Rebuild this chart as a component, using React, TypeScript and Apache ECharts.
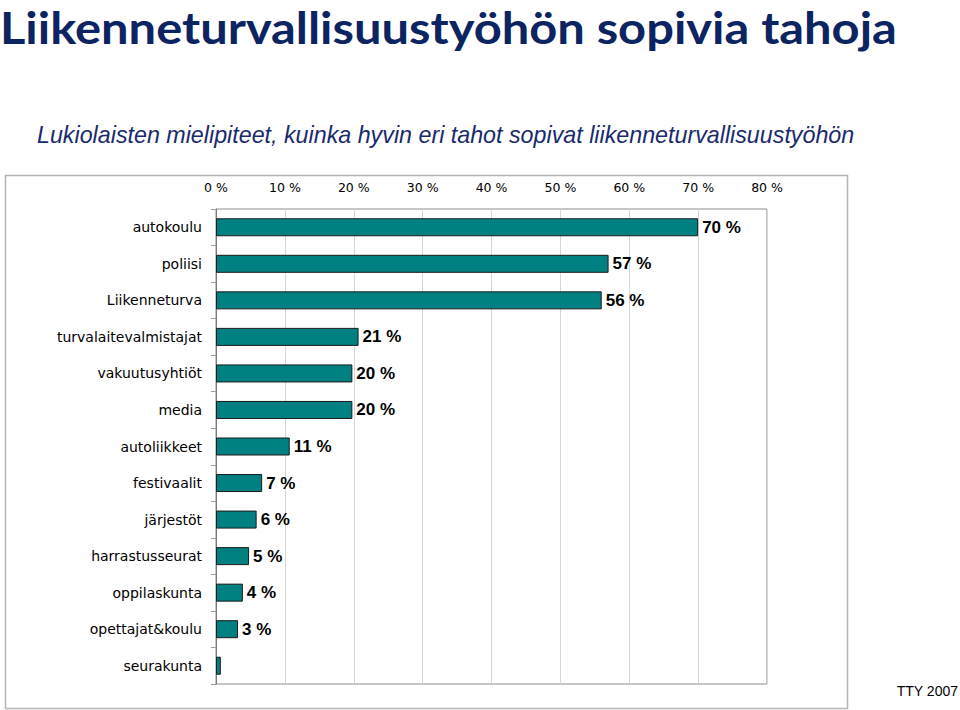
import React, { useEffect, useRef } from "react";
import * as echarts from "echarts";

const categories = [
  "autokoulu",
  "poliisi",
  "Liikenneturva",
  "turvalaitevalmistajat",
  "vakuutusyhtiöt",
  "media",
  "autoliikkeet",
  "festivaalit",
  "järjestöt",
  "harrastusseurat",
  "oppilaskunta",
  "opettajat&koulu",
  "seurakunta",
];
const values = [70, 57, 56, 20.7, 19.8, 19.8, 10.7, 6.7, 5.9, 4.8, 3.9, 3.2, 0.7];
const valueLabels = ["70 %", "57 %", "56 %", "21 %", "20 %", "20 %", "11 %", "7 %", "6 %", "5 %", "4 %", "3 %", ""];
const xTicks = [0, 10, 20, 30, 40, 50, 60, 70, 80];

const TITLE = "Liikenneturvallisuustyöhön sopivia tahoja";
const SUBTITLE = "Lukiolaisten mielipiteet, kuinka hyvin eri tahot sopivat liikenneturvallisuustyöhön";
const SOURCE = "TTY 2007";

function measure(font: string, text: string): number {
  const ctx = document.createElement("canvas").getContext("2d");
  if (!ctx) return 0;
  ctx.font = font;
  return ctx.measureText(text).width;
}

export default function App() {
  const ref = useRef<HTMLDivElement>(null);
  useEffect(() => {
    if (!ref.current) return;
    const chart = echarts.init(ref.current, null, { renderer: "svg" });
    const titleSize = 40;
    const titleFont = `bold ${titleSize}px Lato`;
    const subFont = "italic 23px 'Liberation Sans'";
    const tw = measure(titleFont, TITLE) || 820;
    const sw = measure(subFont, SUBTITLE) || 818;
    chart.setOption({
      animation: false,
      backgroundColor: "#ffffff",
      graphic: [
        {
          type: "text",
          x: 0,
          y: 26.5,
          scaleX: 897 / tw,
          scaleY: 44 / titleSize,
          style: {
            text: TITLE,
            fill: "#0c2461",
            font: titleFont,
            verticalAlign: "middle",
          },
        },
        {
          type: "text",
          x: 37,
          y: 135.5,
          scaleX: 818 / sw,
          style: {
            text: SUBTITLE,
            fill: "#1a2a6e",
            font: subFont,
            verticalAlign: "middle",
          },
        },
        {
          type: "rect",
          shape: { x: 5.5, y: 175.5, width: 842, height: 533 },
          style: { fill: "none", stroke: "#b4b4b4", lineWidth: 1.5 },
          z: -1,
        },
        {
          type: "text",
          x: 958,
          y: 691,
          style: {
            text: SOURCE,
            fill: "#000",
            font: "14px 'Liberation Sans'",
            align: "right",
            verticalAlign: "middle",
          },
        },
      ],
      grid: {
        left: 216,
        top: 209,
        width: 551,
        height: 475,
        show: true,
        borderColor: "#8c8c8c",
        borderWidth: 1,
        backgroundColor: "transparent",
      },
      xAxis: {
        type: "value",
        position: "top",
        min: 0,
        max: 80,
        interval: 10,
        axisLine: { show: false },
        axisTick: { show: false },
        splitLine: { show: true, lineStyle: { color: "#d6d6d6", width: 1 } },
        axisLabel: {
          formatter: (v: number) => (xTicks.includes(v) ? `${v} %` : ""),
          color: "#000",
          fontFamily: "DejaVu Sans",
          fontSize: 12.5,
          margin: 15,
        },
      },
      yAxis: {
        type: "category",
        data: categories,
        inverse: true,
        axisLine: { show: true, lineStyle: { color: "#7a7a7a", width: 1 } },
        axisTick: { show: true, length: 5, lineStyle: { color: "#a0a0a0" } },
        axisLabel: {
          color: "#000",
          fontFamily: "DejaVu Sans",
          fontSize: 14,
          margin: 14,
        },
      },
      series: [
        {
          type: "bar",
          data: values,
          barWidth: 18,
          itemStyle: { color: "#008080", borderColor: "#1a1a1a", borderWidth: 1 },
          label: {
            show: true,
            position: "right",
            distance: 4,
            color: "#000",
            fontFamily: "Liberation Sans",
            fontWeight: "bold",
            fontSize: 17,
            formatter: (p: any) => valueLabels[p.dataIndex],
          },
        },
      ],
    });
    return () => chart.dispose();
  }, []);
  return (
    <div
      ref={ref}
      style={{ position: "fixed", left: 0, top: 0, width: 960, height: 710 }}
    />
  );
}
